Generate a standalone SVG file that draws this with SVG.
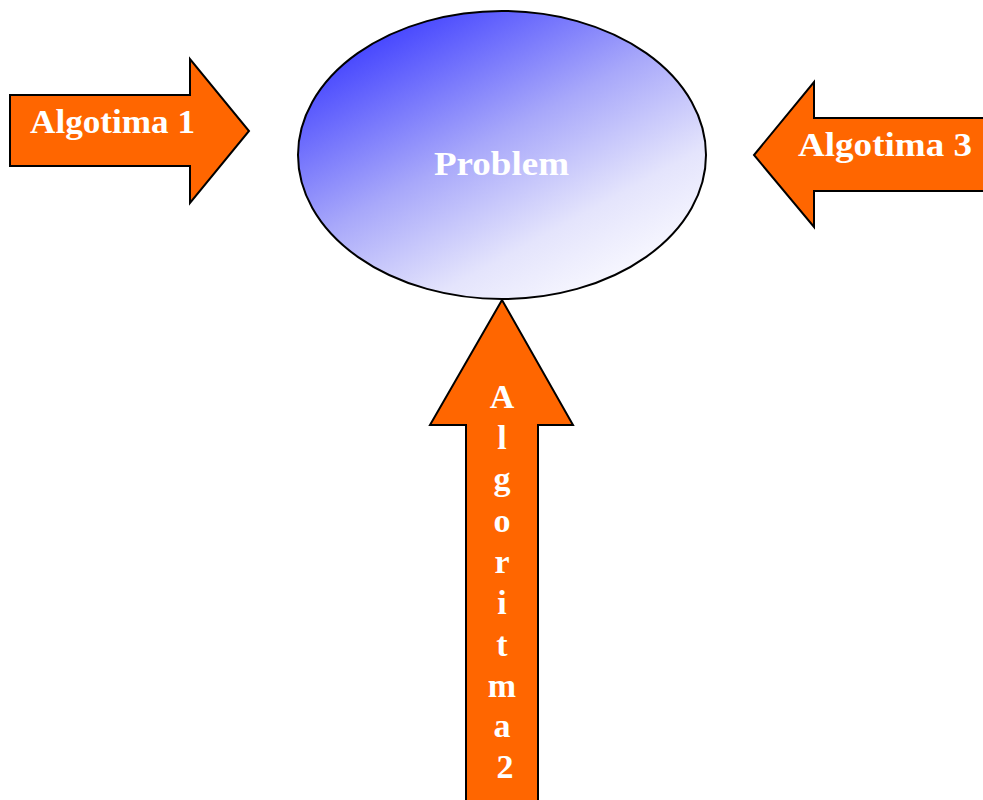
<svg xmlns="http://www.w3.org/2000/svg" width="983" height="800" viewBox="0 0 983 800">
<style>
.arrow{fill:#ff6600;stroke:#000;stroke-width:2;stroke-linejoin:miter}
.lbl{fill:#fff;font-family:"Liberation Serif","Times New Roman",serif;font-weight:bold;font-size:34px}
.v{text-anchor:middle}
</style>
<defs>
<linearGradient id="g" x1="0.15" y1="0.05" x2="0.85" y2="0.95">
<stop offset="0" stop-color="#3a3aff"/>
<stop offset="0.45" stop-color="#a8a8fa"/>
<stop offset="0.75" stop-color="#e4e4fc"/>
<stop offset="1" stop-color="#fcfcff"/>
</linearGradient>
</defs>
<g id="problem">
<ellipse cx="502" cy="155" rx="204" ry="144" fill="url(#g)" stroke="#000" stroke-width="2"/>
<text class="lbl" x="434" y="175" textLength="135" lengthAdjust="spacingAndGlyphs">Problem</text>
</g>
<g id="connectors">
<g id="algotima1">
<polygon class="arrow" points="10,95 190,95 190,59 249,131 190,203 190,166 10,166"/>
<text class="lbl" x="30" y="133" textLength="165" lengthAdjust="spacingAndGlyphs">Algotima 1</text>
</g>
<g id="algotima3">
<polygon class="arrow" points="990,118 814,118 814,82 754,155 814,227 814,191 990,191"/>
<text class="lbl" x="798" y="156" textLength="174" lengthAdjust="spacingAndGlyphs">Algotima 3</text>
</g>
<g id="algoritma2">
<polygon class="arrow" points="466,810 466,425 430,425 502,300 573,425 538,425 538,810"/>
<text class="lbl v" x="502" y="408">A</text>
<text class="lbl v" x="502" y="449">l</text>
<text class="lbl v" x="502" y="490">g</text>
<text class="lbl v" x="502" y="532">o</text>
<text class="lbl v" x="502" y="573">r</text>
<text class="lbl v" x="502" y="614">i</text>
<text class="lbl v" x="502" y="656">t</text>
<text class="lbl v" x="502" y="697">m</text>
<text class="lbl v" x="502" y="737">a</text>
<text class="lbl v" x="505" y="778">2</text>
</g>
</g>
</svg>
